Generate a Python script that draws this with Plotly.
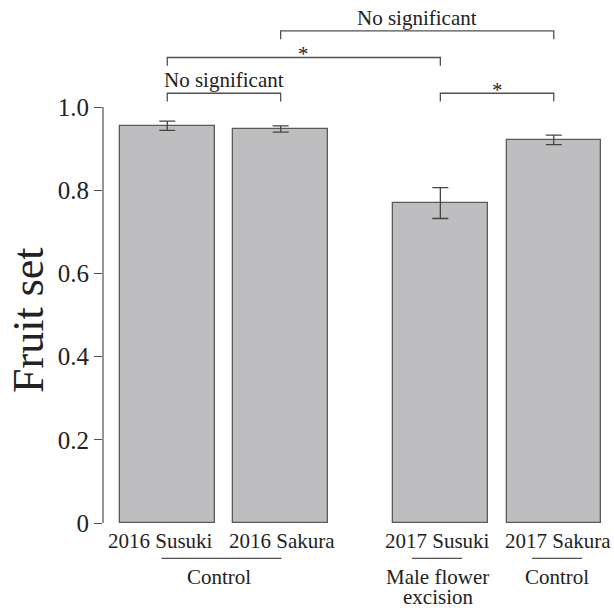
import plotly.graph_objects as go

# ---- data ----
categories = ["2016 Susuki", "2016 Sakura", "2017 Susuki", "2017 Sakura"]
fruit_set = [0.955, 0.947, 0.769, 0.921]
fruit_se = [0.011, 0.0075, 0.037, 0.0115]
bar_pos = [0.68, 1.88, 3.57, 4.77]
label_pos = [0.61, 1.89, 3.54, 4.81]
y_ticks = [0, 0.2, 0.4, 0.6, 0.8, 1.0]
y_ticktext = ["0", "0.2", "0.4", "0.6", "0.8", "1.0"]

# comparisons: (bar i, bar j, label, bracket level)
comparisons = [
    (0, 1, "No significant", 1.033),
    (0, 2, "*", 1.119),
    (1, 3, "No significant", 1.183),
    (2, 3, "*", 1.033),
]
# treatment groups: (label lines, x start, x end, label center)
groups = [
    (["Control"], 0.62, 1.89, 1.228),
    (["Male flower", "excision"], 3.27, 3.80, 3.54),
    (["Control"], 4.54, 5.07, 4.80),
]

FONT = "Liberation Serif"
INK = "#222222"
LINE = "#505050"

fig = go.Figure()
fig.add_trace(go.Bar(
    x=bar_pos, y=fruit_set, width=1,
    marker=dict(color="#bebdc0", line=dict(color="#5a5a5a", width=1.3)),
    error_y=dict(type="data", array=fruit_se, visible=True,
                 color="#444444", thickness=1.3, width=8),
    showlegend=False, hoverinfo="skip",
))

# significance brackets
tick = 0.02
bx, by = [], []
annotations = []
for i, j, lab, lev in comparisons:
    x0, x1 = bar_pos[i], bar_pos[j]
    bx += [x0, x0, x1, x1, None]
    by += [lev - tick, lev, lev, lev - tick, None]
    if lab == "*":
        ty = lev + 0.008
    else:
        ty = lev + 0.031
    annotations.append(dict(x=(x0 + x1) / 2, y=ty, xref="x", yref="y",
                            text=lab, showarrow=False,
                            font=dict(family=FONT, size=21, color=INK),
                            xanchor="center", yanchor="middle"))
fig.add_trace(go.Scatter(x=bx, y=by, mode="lines",
                         line=dict(color=LINE, width=1.3),
                         showlegend=False, hoverinfo="skip"))

# category labels under bars
for c, xp in zip(categories, label_pos):
    annotations.append(dict(x=xp, y=0, xref="x", yref="paper", yshift=-18,
                            text=c, showarrow=False,
                            font=dict(family=FONT, size=21, color=INK),
                            xanchor="center", yanchor="middle"))

plot_h = 608 - 85
shapes = []
for lines, xs, xe, xc in groups:
    yl = -35.3 / plot_h
    shapes.append(dict(type="line", xref="x", yref="paper", x0=xs, x1=xe,
                       y0=yl, y1=yl, line=dict(color=LINE, width=1.2)))
    for k, t in enumerate(lines):
        annotations.append(dict(x=xc, y=0, xref="x", yref="paper",
                                yshift=-53.5 - 20 * k,
                                text=t, showarrow=False,
                                font=dict(family=FONT, size=21, color=INK),
                                xanchor="center", yanchor="middle"))

# y axis title
annotations.append(dict(x=-0.151, y=0.388, xref="paper", yref="paper",
                        text="Fruit set", textangle=-90, showarrow=False,
                        font=dict(family=FONT, size=44, color=INK),
                        xanchor="center", yanchor="middle"))

# y axis line from 0 to 1.0 only
shapes.append(dict(type="line", xref="paper", yref="y", x0=0, x1=0,
                   y0=0, y1=1.0, line=dict(color=LINE, width=1.2)))

fig.update_layout(
    width=614, height=608,
    margin=dict(l=103, r=13, t=0, b=85),
    plot_bgcolor="white", paper_bgcolor="white",
    xaxis=dict(range=[0, 5.27], showgrid=False, zeroline=False,
               showline=False, showticklabels=False, ticks=""),
    yaxis=dict(range=[0, 523 / 416], showgrid=False, zeroline=False,
               showline=False, tickvals=y_ticks, ticktext=y_ticktext,
               ticks="outside", ticklen=8, tickcolor=LINE, tickwidth=1.2,
               ticklabelstandoff=0,
               tickfont=dict(family=FONT, size=25, color=INK)),
    annotations=annotations,
    shapes=shapes,
    bargap=0,
)

fig.write_html("out.html")
